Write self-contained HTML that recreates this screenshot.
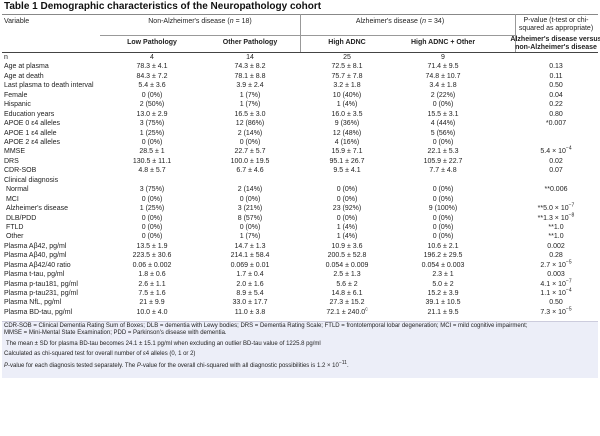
<!DOCTYPE html>
<html><head><meta charset="utf-8"><style>
body{margin:0;width:600px;height:436px;background:#fff;position:relative;overflow:hidden;font-family:"Liberation Sans",sans-serif;color:#222}
.t{position:absolute;font-size:7px;line-height:8px;white-space:nowrap}
.c{transform:translateX(-50%);text-align:center}
.b{font-weight:bold}
sup{font-size:5px;line-height:0}
</style></head><body>
<div class="t b" style="left:4px;top:1px;font-size:10px;line-height:12px;color:#111">Table 1 Demographic characteristics of the Neuropathology cohort</div>
<div style="position:absolute;left:2px;top:14px;width:596px;height:37px;background:#fff;border-top:1px solid #888;border-bottom:1px solid #444"></div>
<div style="position:absolute;left:100px;top:35px;width:415px;height:1px;background:#999"></div>
<div style="position:absolute;left:300px;top:14px;width:1px;height:38px;background:#999"></div>
<div style="position:absolute;left:515px;top:14px;width:1px;height:38px;background:#999"></div>
<div class="t" style="left:4px;top:18px">Variable</div>
<div class="t c" style="left:200px;top:18px">Non-Alzheimer's disease (<i>n</i> = 18)</div>
<div class="t c" style="left:400px;top:18px">Alzheimer's disease (<i>n</i> = 34)</div>
<div class="t c" style="left:556px;top:17px">P-value (t-test or chi-<br>squared as appropriate)</div>
<div class="t c b" style="left:152px;top:39px">Low Pathology</div>
<div class="t c b" style="left:250px;top:39px">Other Pathology</div>
<div class="t c b" style="left:347px;top:39px">High ADNC</div>
<div class="t c b" style="left:443px;top:39px">High ADNC + Other</div>
<div class="t c b" style="left:556px;top:36px">Alzheimer's disease versus<br>non-Alzheimer's disease</div>
<div id="rows"></div>
<div style="position:absolute;left:2px;top:321px;width:596px;height:56px;background:#eceef8;border-top:1px solid #ccd"></div>
<div class="t" style="left:4px;top:322px;font-size:6px">CDR-SOB = Clinical Dementia Rating Sum of Boxes; DLB = dementia with Lewy bodies; DRS = Dementia Rating Scale; FTLD = frontotemporal lobar degeneration; MCI = mild cognitive impairment;</div>
<div class="t" style="left:4px;top:329px;font-size:6px">MMSE = Mini-Mental State Examination; PDD = Parkinson's disease with dementia.</div>
<div class="t" style="left:6px;top:340px;font-size:6px">The mean ± SD for plasma BD-tau becomes 24.1 ± 15.1 pg/ml when excluding an outlier BD-tau value of 1225.8 pg/ml</div>
<div class="t" style="left:4px;top:350px;font-size:6px">Calculated as chi-squared test for overall number of ε4 alleles (0, 1 or 2)</div>
<div class="t" style="left:4px;top:362px;font-size:6px"><i>P</i>-value for each diagnosis tested separately. The <i>P</i>-value for the overall chi-squared with all diagnostic possibilities is 1.2 × 10<sup>−11</sup>.</div>
<script>
var R=[["n","4","14","25","9",""],
["Age at plasma","78.3 ± 4.1","74.3 ± 8.2","72.5 ± 8.1","71.4 ± 9.5","0.13"],
["Age at death","84.3 ± 7.2","78.1 ± 8.8","75.7 ± 7.8","74.8 ± 10.7","0.11"],
["Last plasma to death interval","5.4 ± 3.6","3.9 ± 2.4","3.2 ± 1.8","3.4 ± 1.8","0.50"],
["Female","0 (0%)","1 (7%)","10 (40%)","2 (22%)","0.04"],
["Hispanic","2 (50%)","1 (7%)","1 (4%)","0 (0%)","0.22"],
["Education years","13.0 ± 2.9","16.5 ± 3.0","16.0 ± 3.5","15.5 ± 3.1","0.80"],
["APOE 0 ε4 alleles","3 (75%)","12 (86%)","9 (36%)","4 (44%)","*0.007"],
["APOE 1 ε4 allele","1 (25%)","2 (14%)","12 (48%)","5 (56%)",""],
["APOE 2 ε4 alleles","0 (0%)","0 (0%)","4 (16%)","0 (0%)",""],
["MMSE","28.5 ± 1","22.7 ± 5.7","15.9 ± 7.1","22.1 ± 5.3","5.4 × 10<sup>−4</sup>"],
["DRS","130.5 ± 11.1","100.0 ± 19.5","95.1 ± 26.7","105.9 ± 22.7","0.02"],
["CDR-SOB","4.8 ± 5.7","6.7 ± 4.6","9.5 ± 4.1","7.7 ± 4.8","0.07"],
["Clinical diagnosis","","","","",""],
["&nbsp;Normal","3 (75%)","2 (14%)","0 (0%)","0 (0%)","**0.006"],
["&nbsp;MCI","0 (0%)","0 (0%)","0 (0%)","0 (0%)",""],
["&nbsp;Alzheimer's disease","1 (25%)","3 (21%)","23 (92%)","9 (100%)","**5.0 × 10<sup>−7</sup>"],
["&nbsp;DLB/PDD","0 (0%)","8 (57%)","0 (0%)","0 (0%)","**1.3 × 10<sup>−8</sup>"],
["&nbsp;FTLD","0 (0%)","0 (0%)","1 (4%)","0 (0%)","**1.0"],
["&nbsp;Other","0 (0%)","1 (7%)","1 (4%)","0 (0%)","**1.0"],
["Plasma Aβ42, pg/ml","13.5 ± 1.9","14.7 ± 1.3","10.9 ± 3.6","10.6 ± 2.1","0.002"],
["Plasma Aβ40, pg/ml","223.5 ± 30.6","214.1 ± 58.4","200.5 ± 52.8","196.2 ± 29.5","0.28"],
["Plasma Aβ42/40 ratio","0.06 ± 0.002","0.069 ± 0.01","0.054 ± 0.009","0.054 ± 0.003","2.7 × 10<sup>−5</sup>"],
["Plasma t-tau, pg/ml","1.8 ± 0.6","1.7 ± 0.4","2.5 ± 1.3","2.3 ± 1","0.003"],
["Plasma p-tau181, pg/ml","2.6 ± 1.1","2.0 ± 1.6","5.6 ± 2","5.0 ± 2","4.1 × 10<sup>−7</sup>"],
["Plasma p-tau231, pg/ml","7.5 ± 1.6","8.9 ± 5.4","14.8 ± 6.1","15.2 ± 3.9","1.1 × 10<sup>−4</sup>"],
["Plasma NfL, pg/ml","21 ± 9.9","33.0 ± 17.7","27.3 ± 15.2","39.1 ± 10.5","0.50"],
["Plasma BD-tau, pg/ml","10.0 ± 4.0","11.0 ± 3.8","72.1 ± 240.0<sup>c</sup>","21.1 ± 9.5","7.3 × 10<sup>−5</sup>"]];
var X=[152,250,347,443,556],h="";
R.forEach(function(r,i){var y=(58+i*9.44-4).toFixed(1);
h+='<div class="t" style="left:4px;top:'+y+'px">'+r[0]+'</div>';
for(var j=1;j<6;j++)h+='<div class="t c" style="left:'+X[j-1]+'px;top:'+y+'px">'+r[j]+'</div>';});
document.getElementById("rows").innerHTML=h;
</script>
</body></html>
